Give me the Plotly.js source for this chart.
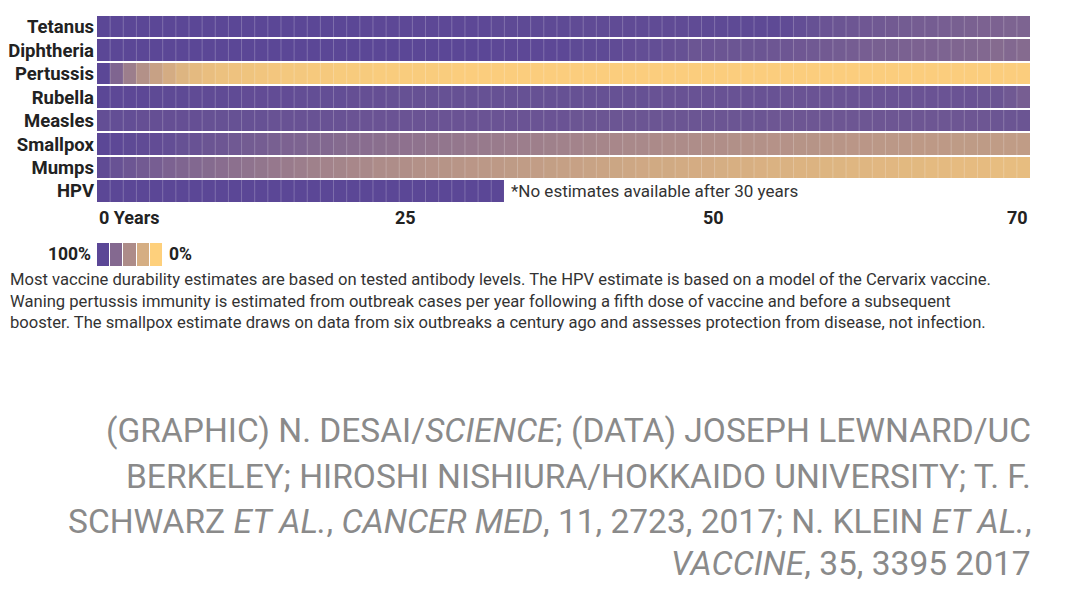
<!DOCTYPE html>
<html>
<head>
<meta charset="utf-8">
<script src="https://cdn.plot.ly/plotly-3.0.1.min.js"></script>
<style>
  html, body { margin: 0; padding: 0; background: #fff; }
  #chart { width: 1080px; height: 610px; }
</style>
</head>
<body>
<div id="chart"></div>
<script>
// ---------- DATA ----------
const categories = ['Tetanus', 'Diphtheria', 'Pertussis', 'Rubella', 'Measles', 'Smallpox', 'Mumps', 'HPV'];

const years = [0,1,2,3,4,5,6,7,8,9,10,11,12,13,14,15,16,17,18,19,20,21,22,23,24,25,26,27,28,29,30,
  31,32,33,34,35,36,37,38,39,40,41,42,43,44,45,46,47,48,49,50,51,52,53,54,55,56,57,58,59,60,
  61,62,63,64,65,66,67,68,69,70];

// fraction of immunity remaining (1 = 100%, 0 = 0%)
const tetanus = [1,1,1,1,1,1,1,1,1,1, 1,1,1,1,1,1,1,1,1,1, 0.99,0.99,0.99,0.99,0.99,0.99,0.99,0.99,0.99,0.99,
  0.98,0.98,0.98,0.98,0.98,0.98,0.97,0.97,0.97,0.97, 0.97,0.97,0.97,0.97,0.97,0.97,0.98,0.98,0.98,0.98,
  0.98,0.98,0.97,0.95,0.93,0.91,0.9,0.89,0.88,0.87, 0.86,0.85,0.84,0.84,0.83,0.82,0.81,0.8,0.8,0.79,0.79];

const diphtheria = [1,1,1,1,1,1,1,1,1,1, 1,1,1,1,1,1,1,1,1,1, 1,1,1,1,1,1,1,1,1,1,
  0.99,0.99,0.99,0.99,0.99,0.99,0.98,0.98,0.98,0.97, 0.96,0.95,0.95,0.94,0.93,0.9,0.91,0.9,0.9,0.9,
  0.9,0.89,0.89,0.88,0.87,0.86,0.85,0.84,0.83,0.82, 0.82,0.81,0.8,0.8,0.79,0.78,0.77,0.76,0.74,0.76,0.74];

const pertussis = [1,0.78,0.6,0.46,0.34,0.26,0.2,0.16,0.13,0.11, 0.1,0.09,0.08,0.07,0.06,0.06,0.05,0.05,0.04,0.04,
  0.04,0.03,0.03,0.03,0.03,0.03,0.03,0.02,0.02,0.02, 0.02,0.02,0.02,0.02,0.02,0.02,0.02,0.02,0.02,0.02,
  0.02,0.02,0.02,0.02,0.02,0.02,0.02,0.02,0.02,0.02, 0.02,0.02,0.02,0.02,0.02,0.02,0.02,0.02,0.02,0.02,
  0.02,0.02,0.02,0.02,0.02,0.02,0.02,0.02,0.02,0.02,0.02];

const rubella = [1,0.99,0.99,0.99,0.98,0.98,0.98,0.97,0.97,0.97, 0.97,0.96,0.96,0.96,0.96,0.95,0.95,0.95,0.95,0.94,
  0.94,0.94,0.93,0.93,0.93,0.93,0.93,0.93,0.93,0.93, 0.93,0.93,0.93,0.93,0.93,0.93,0.93,0.93,0.93,0.93,
  0.93,0.93,0.92,0.92,0.92,0.92,0.92,0.92,0.92,0.92, 0.92,0.92,0.91,0.91,0.91,0.91,0.91,0.91,0.91,0.91,
  0.91,0.91,0.91,0.91,0.91,0.91,0.91,0.9,0.9,0.87,0.83];

const measles = [0.95,0.95,0.95,0.94,0.94,0.94,0.94,0.94,0.93,0.93, 0.93,0.93,0.93,0.92,0.92,0.92,0.92,0.92,0.92,0.91,
  0.91,0.91,0.91,0.91,0.91,0.91,0.91,0.91,0.91,0.91, 0.91,0.91,0.91,0.91,0.91,0.91,0.9,0.9,0.9,0.9,
  0.9,0.9,0.9,0.9,0.9,0.9,0.9,0.9,0.9,0.9, 0.9,0.89,0.89,0.89,0.89,0.89,0.89,0.89,0.89,0.89,
  0.89,0.89,0.89,0.89,0.89,0.89,0.89,0.89,0.9,0.9,0.9];

const smallpox = [1,0.99,0.98,0.97,0.96,0.95,0.93,0.92,0.9,0.89, 0.87,0.85,0.84,0.82,0.8,0.79,0.77,0.76,0.74,0.73,
  0.72,0.71,0.7,0.69,0.68,0.67,0.66,0.65,0.64,0.63, 0.62,0.61,0.6,0.59,0.58,0.57,0.56,0.55,0.54,0.53,
  0.52,0.52,0.51,0.5,0.5,0.49,0.48,0.48,0.47,0.46, 0.46,0.45,0.45,0.44,0.44,0.43,0.43,0.42,0.42,0.41,
  0.41,0.41,0.4,0.4,0.4,0.39,0.39,0.39,0.38,0.38,0.38];

const mumps = [0.97,0.92,0.89,0.86,0.83,0.8,0.78,0.76,0.74,0.72, 0.7,0.68,0.66,0.64,0.62,0.6,0.58,0.56,0.55,0.53,
  0.52,0.5,0.49,0.48,0.46,0.45,0.44,0.43,0.42,0.41, 0.4,0.39,0.38,0.37,0.36,0.35,0.34,0.33,0.32,0.31,
  0.3,0.29,0.28,0.28,0.27,0.26,0.26,0.25,0.24,0.24, 0.23,0.22,0.22,0.21,0.21,0.2,0.2,0.19,0.19,0.18,
  0.18,0.17,0.17,0.16,0.16,0.15,0.15,0.15,0.14,0.14,0.14];

const hpv = [1,1,1,1,1,1,1,1,1,1, 1,1,1,1,1,1,1,1,1,1, 1,1,1,1,1,1,1,1,1,1, 1,
  null,null,null,null,null,null,null,null,null, null,null,null,null,null,null,null,null,null,null,
  null,null,null,null,null,null,null,null,null,null, null,null,null,null,null,null,null,null,null,null];

// legend swatches (100% -> 0%)
const legendSteps = [1, 0.75, 0.5, 0.25, 0];
const legendLabels = ['100%', '0%'];

// x tick labels
const tickLabels = ['0 Years', '25', '50', '70'];
const tickPositions = [-0.5, 22.95, 46.45, 70.5];
const tickAnchors = ['left', 'center', 'center', 'right'];

const note = '*No estimates available after 30 years';
const footnoteText =
  'Most vaccine durability estimates are based on tested antibody levels. The HPV estimate is based on a model of the Cervarix vaccine.<br>' +
  'Waning pertussis immunity is estimated from outbreak cases per year following a fifth dose of vaccine and before a subsequent<br>' +
  'booster. The smallpox estimate draws on data from six outbreaks a century ago and assesses protection from disease, not infection.';
const creditLines = [
  '(GRAPHIC) N. DESAI/<i>SCIENCE</i>; (DATA) JOSEPH LEWNARD/UC',
  'BERKELEY; HIROSHI NISHIURA/HOKKAIDO UNIVERSITY; T. F.',
  'SCHWARZ <i>ET AL.</i>, <i>CANCER MED</i>, 11, 2723, 2017; N. KLEIN <i>ET AL.</i>,',
  '<i>VACCINE</i>, 35, 3395 2017'
];

// ---------- STYLE ----------
const W = 1080, H = 610;
const px = v => v / W;
const py = v => 1 - v / H;
const FONT = 'Roboto, "Open Sans", sans-serif';
const colorscale = [[0, '#fed07c'], [1, '#5b4796']];

const z = [tetanus, diphtheria, pertussis, rubella, measles, smallpox, mumps, hpv];

const traces = [
  {
    type: 'heatmap',
    x: years,
    y: categories,
    z: z,
    zmin: 0, zmax: 1,
    colorscale: colorscale,
    showscale: false,
    ygap: 2,
    xgap: 0,
    hoverongaps: false,
    xaxis: 'x', yaxis: 'y'
  },
  {
    type: 'heatmap',
    x: legendSteps.map((_, i) => i),
    y: ['legend'],
    z: [legendSteps],
    zmin: 0, zmax: 1,
    colorscale: colorscale,
    showscale: false,
    xgap: 1,
    xaxis: 'x2', yaxis: 'y2'
  }
];

// faint vertical cell separators, derived from the year categories
const shapes = years.slice(0, -1).map(yr => ({
  type: 'line', xref: 'x', yref: 'y domain',
  x0: yr + 0.5, x1: yr + 0.5, y0: 0, y1: 1,
  line: { color: 'rgba(255,255,255,0.22)', width: 1 },
  layer: 'above'
}));

const annotations = [];
tickLabels.forEach((t, i) => annotations.push({
  text: t, xref: 'x', yref: 'paper', x: tickPositions[i], y: py(217),
  xanchor: tickAnchors[i], yanchor: 'middle', showarrow: false,
  font: { family: FONT, size: 18, color: '#222', weight: 700 }
}));
annotations.push({
  text: note, xref: 'x', yref: 'y', x: 30.5, y: 'HPV', xshift: 5,
  xanchor: 'left', yanchor: 'middle', showarrow: false,
  font: { family: FONT, size: 17, color: '#333' }
});
annotations.push({
  text: legendLabels[0], xref: 'paper', yref: 'paper', x: px(93), y: py(254),
  xanchor: 'right', yanchor: 'middle', showarrow: false,
  font: { family: FONT, size: 17.5, color: '#222', weight: 700 }
});
annotations.push({
  text: legendLabels[1], xref: 'paper', yref: 'paper', x: px(167), y: py(254),
  xanchor: 'left', yanchor: 'middle', showarrow: false,
  font: { family: FONT, size: 17.5, color: '#222', weight: 700 }
});
// footnote as one block (line spacing set by the library)
annotations.push({
  text: footnoteText, xref: 'paper', yref: 'paper', x: px(8), y: py(301),
  xanchor: 'left', yanchor: 'middle', align: 'left', showarrow: false,
  font: { family: FONT, size: 16.6, color: '#333' }
});
const creditY = [430, 476, 521, 563];
creditLines.forEach((t, i) => annotations.push({
  text: t, xref: 'paper', yref: 'paper', x: px(1033), y: py(creditY[i]),
  xanchor: 'right', yanchor: 'middle', showarrow: false,
  font: { family: FONT, size: 33.5, color: '#8a8a8a' }
}));

const layout = {
  width: W, height: H,
  margin: { l: 0, r: 0, t: 0, b: 0 },
  paper_bgcolor: '#ffffff',
  plot_bgcolor: '#ffffff',
  showlegend: false,
  xaxis: {
    domain: [px(97), px(1030)], range: [-0.5, 70.5],
    showticklabels: false, showgrid: false, zeroline: false, showline: false, ticks: ''
  },
  yaxis: {
    domain: [py(203), py(15)], type: 'category', autorange: 'reversed',
    showgrid: false, zeroline: false, showline: false, ticks: '',
    ticklabelstandoff: 2,
    tickfont: { family: FONT, size: 18.5, color: '#222', weight: 700 }
  },
  xaxis2: {
    domain: [px(97), px(163)], anchor: 'y2', range: [-0.5, 4.5],
    showticklabels: false, showgrid: false, zeroline: false, ticks: ''
  },
  yaxis2: {
    domain: [py(266), py(243)], anchor: 'x2',
    showticklabels: false, showgrid: false, zeroline: false, ticks: ''
  },
  shapes: shapes,
  annotations: annotations
};

Plotly.newPlot('chart', traces, layout, { staticPlot: true, displayModeBar: false });
</script>
</body>
</html>
